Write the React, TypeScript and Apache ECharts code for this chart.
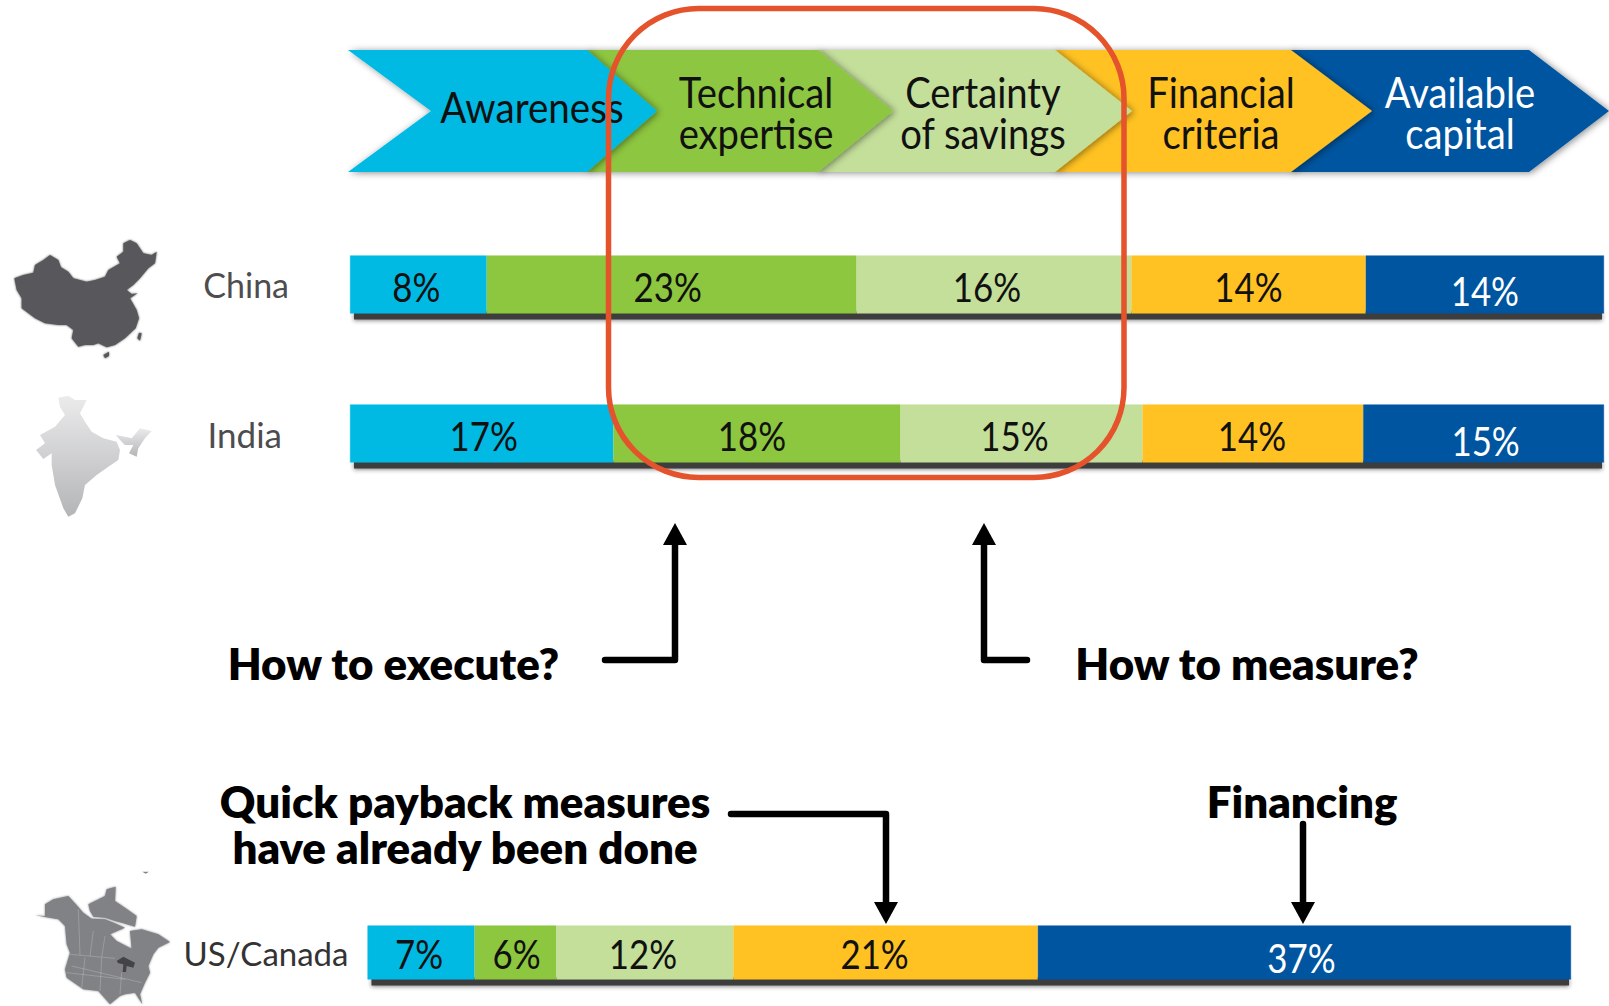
import React, { useEffect, useRef } from "react";
import * as echarts from "echarts";

const stages = ["Awareness", "Technical expertise", "Certainty of savings", "Financial criteria", "Available capital"];
const stageColors = ["#00BAE4", "#8DC63F", "#C3DF9A", "#FFC222", "#0055A0"];
const stageLabelColors = ["#111", "#111", "#111", "#111", "#fff"];

// Printed percentages
const chinaLabels = ["8%", "23%", "16%", "14%", "14%"];
const indiaLabels = ["17%", "18%", "15%", "14%", "15%"];
const usLabels = ["7%", "6%", "12%", "21%", "37%"];

// Segment lengths, as a share of each bar's length
const chinaShares = [10.9, 29.5, 21.9, 18.7, 19.0];
const indiaShares = [21.0, 22.9, 19.3, 17.6, 19.2];
const usShares = [8.9, 6.8, 14.7, 25.3, 44.3];

const FONT = "Lato";

const chinaOutline = [[28,145],[55,135],[85,128],[90,105],[115,90],[135,75],[160,90],[168,112],[190,125],[205,145],[245,155],[270,150],[300,140],[310,120],[345,100],[335,80],[355,65],[355,40],[375,30],[395,40],[415,70],[440,75],[455,65],[450,100],[430,115],[405,145],[385,165],[365,180],[380,192],[398,190],[375,205],[395,240],[402,265],[392,295],[360,325],[330,345],[305,352],[280,340],[265,345],[240,345],[220,350],[200,325],[205,300],[185,285],[160,285],[120,280],[90,265],[50,235],[50,205],[35,180]];
const taiwan = [[402,308],[410,310],[405,332],[397,325]];
const hainan = [[295,375],[312,365],[312,378],[300,385]];
const indiaOutline = [[100,38],[130,32],[150,45],[185,45],[175,65],[165,85],[180,110],[200,140],[235,160],[275,170],[285,195],[280,225],[250,245],[215,270],[180,300],[172,340],[150,385],[130,395],[115,370],[90,300],[80,240],[80,205],[55,222],[33,195],[60,175],[45,150],[90,125],[120,90],[105,65]];
const indiaEast = [[272,150],[300,155],[320,160],[345,130],[380,138],[360,160],[340,190],[335,215],[312,205],[325,180],[300,180],[285,165]];
const naMain = [[30,148],[60,150],[60,115],[85,100],[130,90],[150,112],[175,140],[200,158],[240,160],[270,172],[300,185],[255,205],[275,225],[320,248],[315,195],[350,190],[400,205],[435,228],[400,245],[385,265],[370,300],[375,320],[360,350],[345,385],[352,415],[330,380],[300,385],[285,390],[255,415],[220,375],[175,370],[125,335],[120,310],[135,260],[125,235],[120,180],[100,160]];
const naArctic = [[190,115],[240,90],[245,70],[272,62],[270,105],[300,125],[335,150],[330,182],[295,172],[270,165],[240,155],[205,152],[195,135]];
const naIsle = [[352,17],[372,17],[362,23]];
const lakes = [[275,285],[295,272],[330,290],[325,305],[305,300],[303,318],[293,318],[295,295],[280,292]];
const naBorders = [
  [[135,265],[270,277]], [[160,130],[165,268]], [[205,195],[195,270]], [[240,210],[230,273]],
  [[125,320],[300,340]], [[180,275],[170,365]], [[230,275],[225,375]], [[290,320],[285,385]], [[140,300],[350,350]],
];

const crop = (ox: number, oy: number) => (arr: number[][]) => arr.map((p) => [ox + p[0] / 3, oy + p[1] / 3]);
const cn = crop(5, 230);
const ind = crop(25, 385);
const na = crop(25, 866);

function chevron(l: number, notch: number, r: number, tip: number, color: string, z: number) {
  const top = 50, bot = 172, mid = 111;
  return {
    type: "polygon", z,
    shape: { points: [[l, top], [r, top], [tip, mid], [r, bot], [l, bot], [notch, mid]] },
    style: { fill: color, shadowColor: "rgba(0,0,0,0.45)", shadowBlur: 7, shadowOffsetX: 2, shadowOffsetY: 1 },
  };
}

function txt(text: string, x: number, y: number, fontSize: number, fill: string, scaleX: number, bold = false) {
  return {
    type: "text", z: 20, x, y, scaleX,
    style: { text, fontSize, lineHeight: bold ? 46 : 41, fill, fontFamily: FONT, fontWeight: bold ? 800 : 400, align: "center", verticalAlign: "middle" },
  };
}

function arrow(points: number[][], dir: "up" | "down") {
  const [tx, ty] = points[points.length - 1];
  const s = dir === "up" ? -1 : 1;
  return [
    { type: "polyline", z: 30, shape: { points }, style: { stroke: "#000", lineWidth: 6.5, fill: "none", lineJoin: "round", lineCap: "round" } },
    { type: "polygon", z: 30, shape: { points: [[tx - 12, ty], [tx + 12, ty], [tx, ty + s * 22]] }, style: { fill: "#000" } },
  ];
}

const rows = [
  { name: "China", shares: chinaShares, labels: chinaLabels, left: 350, right: 5, top: 255.5, height: 58, margin: 61, color: "#4d4d4f", nameSize: 34,
    off: [[-2, 1], [-4, 1], [-7, 1], [0, 1], [0, 5]] },
  { name: "India", shares: indiaShares, labels: indiaLabels, left: 350, right: 5, top: 404.5, height: 58, margin: 68, color: "#4d4d4f", nameSize: 35,
    off: [[2, 1], [-5, 1], [-7, 1], [-1, 1], [2, 6]] },
  { name: "US/Canada", shares: usShares, labels: usLabels, left: 367.5, right: 38, top: 925.5, height: 54, margin: 19, color: "#333", nameSize: 33,
    off: [[-2, 0], [1, 0], [-2, 0], [-11, 0], [-3, 4]] },
];

export default function App() {
  const ref = useRef<HTMLDivElement>(null);
  useEffect(() => {
    const chart = echarts.init(ref.current!, undefined, { renderer: "svg" });
    const series: any[] = [];
    rows.forEach((row, i) => {
      series.push({
        type: "custom", name: row.name + " shadow", xAxisIndex: i, yAxisIndex: i, z: 1, clip: false, silent: true,
        data: [[0, 0]],
        renderItem: (_p: any, api: any) => {
          const a = api.coord([0, 0]);
          const b = api.coord([100, 0]);
          const h = api.size([0, 1])[1];
          return {
            type: "rect",
            shape: { x: a[0] + 4, y: a[1] + h / 2 - 2, width: b[0] - a[0] - 6, height: 8 },
            style: { fill: "#3c3c3e", shadowColor: "rgba(40,40,40,0.6)", shadowBlur: 4, shadowOffsetY: 1 },
          };
        },
      });
      stages.forEach((stage, s) => {
        series.push({
          type: "bar", name: stage, stack: row.name, xAxisIndex: i, yAxisIndex: i,
          barWidth: "100%", z: 2,
          itemStyle: { color: stageColors[s], borderColor: stageColors[s], borderWidth: 0.5 },
          data: [row.shares[s]],
        });
      });
      let cum = 0;
      const mids = row.shares.map((v) => { const m = cum + v / 2; cum += v; return [m, 0]; });
      series.push({
        type: "custom", name: row.name + " values", xAxisIndex: i, yAxisIndex: i, z: 4, clip: false, silent: true,
        data: mids,
        renderItem: (p: any, api: any) => {
          const c = api.coord([api.value(0), 0]);
          const k = p.dataIndex;
          return {
            type: "text", x: c[0] + row.off[k][0], y: c[1] + row.off[k][1], scaleX: 0.85,
            style: { text: row.labels[k], fontFamily: FONT, fontSize: 41, fill: stageLabelColors[k], align: "center", verticalAlign: "middle" },
          };
        },
      });
    });
    const chevrons = [
      chevron(1291, 1291, 1529, 1609, stageColors[4], 5),
      chevron(1055, 1055, 1291, 1372, stageColors[3], 6),
      chevron(818, 818, 1055, 1132, stageColors[2], 7),
      chevron(587, 587, 818, 893, stageColors[1], 8),
      chevron(348, 431, 587, 657, stageColors[0], 9),
    ];
    const soft = (c: string) => ({ fill: c, shadowColor: c, shadowBlur: 2 });
    const graphic: any[] = [
      ...chevrons,
      txt("Awareness", 532, 107, 42, "#111", 0.92),
      txt("Technical\nexpertise", 756, 112, 42, "#111", 0.91),
      txt("Certainty\nof savings", 983, 112, 42, "#111", 0.91),
      txt("Financial\ncriteria", 1221, 112, 42, "#111", 0.91),
      txt("Available\ncapital", 1460, 112, 42, "#fff", 0.91),
      { type: "rect", z: 25, shape: { x: 608.5, y: 8.5, width: 515.5, height: 469, r: 90 }, style: { fill: "none", stroke: "#E4532B", lineWidth: 5.5 } },
      { type: "polygon", z: 3, shape: { points: cn(chinaOutline) }, style: soft("#58595B") },
      { type: "polygon", z: 3, shape: { points: cn(taiwan) }, style: soft("#58595B") },
      { type: "polygon", z: 3, shape: { points: cn(hainan) }, style: soft("#58595B") },
      ...[indiaOutline, indiaEast].map((o) => ({
        type: "polygon", z: 3, shape: { points: ind(o) },
        style: { fill: new echarts.graphic.LinearGradient(0, 0, 0, 1, [{ offset: 0, color: "#ebebec" }, { offset: 1, color: "#b4b5b7" }]) },
      })),
      { type: "polygon", z: 3, shape: { points: na(naMain) }, style: soft("#808285") },
      { type: "polygon", z: 3, shape: { points: na(naArctic) }, style: soft("#808285") },
      { type: "polygon", z: 3, shape: { points: na(naIsle) }, style: { fill: "#808285" } },
      ...naBorders.map((l) => ({ type: "polyline", z: 4, shape: { points: na(l) }, style: { stroke: "rgba(255,255,255,0.2)", lineWidth: 1, fill: "none" } })),
      { type: "polygon", z: 5, shape: { points: na(lakes) }, style: { fill: "#444446" } },
      txt("How to execute?", 393.5, 663, 43, "#000", 1.02, true),
      txt("How to measure?", 1247, 663, 43, "#000", 1.02, true),
      txt("Quick payback measures\nhave already been done", 465, 824, 43, "#000", 1.02, true),
      txt("Financing", 1302, 801, 43, "#000", 1.02, true),
      ...arrow([[605, 660], [675, 660], [675, 545]], "up"),
      ...arrow([[1027, 660], [984, 660], [984, 545]], "up"),
      ...arrow([[731, 814], [886, 814], [886, 902]], "down"),
      ...arrow([[1303, 824], [1303, 902]], "down"),
    ];
    chart.setOption({
      animation: false,
      backgroundColor: "#fff",
      grid: rows.map((r) => ({ left: r.left, right: r.right, top: r.top, height: r.height, containLabel: false })),
      xAxis: rows.map((_, i) => ({ type: "value", gridIndex: i, min: 0, max: 100, show: false })),
      yAxis: rows.map((r, i) => ({
        type: "category", gridIndex: i, data: [r.name],
        axisLine: { show: false }, axisTick: { show: false },
        axisLabel: { margin: r.margin, fontFamily: FONT, fontSize: r.nameSize, color: r.color },
      })),
      series,
      graphic: { elements: graphic },
    });
    return () => chart.dispose();
  }, []);
  return <div ref={ref} style={{ position: "fixed", left: 0, top: 0, width: 1609, height: 1006 }} />;
}
